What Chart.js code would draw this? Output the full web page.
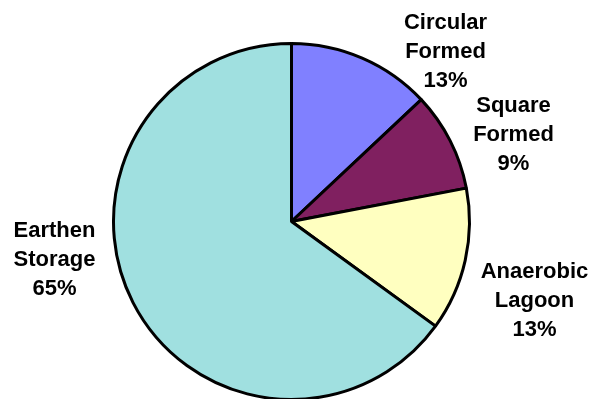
<!DOCTYPE html>
<html>
<head>
<meta charset="utf-8">
<script src="https://cdn.jsdelivr.net/npm/chart.js@4/dist/chart.umd.min.js"></script>
<style>
  html, body { margin: 0; padding: 0; background: #fff; overflow: hidden; }
  #wrap { width: 594px; height: 399px; }
</style>
</head>
<body>
<div id="wrap"><canvas id="manurePie"></canvas></div>
<script>
// storage type shares, clockwise from 12 o'clock
const storageTypes = [["Circular", "Formed"], ["Square", "Formed"], ["Anaerobic", "Lagoon"], ["Earthen", "Storage"]];
const sharePct = [13, 9, 13, 65];
const sliceColors = ["#8080ff", "#802060", "#ffffc0", "#a0e0e0"];

// where each label block sits, relative to the pie centre
const labelOffsets = [[154, -170], [222, -87], [243, 79], [-237, 38]];

const outsideLabels = {
  id: 'outsideLabels',
  afterDatasetsDraw(chart) {
    const { ctx } = chart;
    const arc = chart.getDatasetMeta(0).data[0];
    ctx.save();
    ctx.font = "bold 22px 'Liberation Sans', Arial, sans-serif";
    ctx.fillStyle = "#000";
    ctx.textAlign = "center";
    ctx.textBaseline = "middle";
    storageTypes.forEach((lines, i) => {
      const cx = arc.x + labelOffsets[i][0];
      const cy = arc.y + labelOffsets[i][1];
      const rows = [lines[0], lines[1], sharePct[i] + "%"];
      rows.forEach((t, j) => ctx.fillText(t, cx, cy + (j - 1) * 29));
    });
    ctx.restore();
  }
};

new Chart(document.getElementById("manurePie"), {
  type: "pie",
  data: {
    labels: storageTypes.map(l => l.join(" ")),
    datasets: [{
      data: sharePct,
      backgroundColor: sliceColors,
      borderColor: "#000",
      borderWidth: 3,
      clip: false
    }]
  },
  options: {
    responsive: true,
    maintainAspectRatio: false,
    animation: false,
    radius: 178,
    layout: { padding: { left: 0, right: 11, top: 44, bottom: 0 } },
    plugins: {
      legend: { display: false },
      tooltip: { enabled: false }
    }
  },
  plugins: [outsideLabels]
});
</script>
</body>
</html>
